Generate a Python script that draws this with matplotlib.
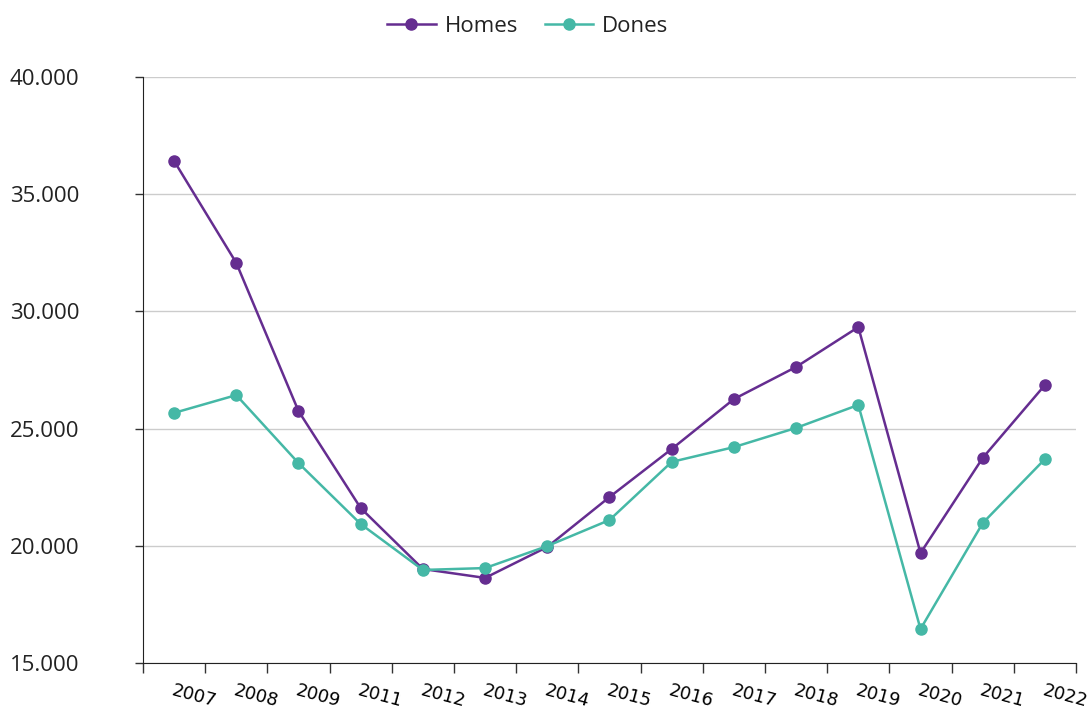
import matplotlib
matplotlib.use("Agg")
import matplotlib.pyplot as plt
from matplotlib.ticker import FuncFormatter, FixedLocator

years = ["2007", "2008", "2009", "2011", "2012", "2013", "2014", "2015",
         "2016", "2017", "2018", "2019", "2020", "2021", "2022"]
homes = [36420, 32070, 25750, 21610, 19010, 18630, 19950, 22080,
         24130, 26260, 27630, 29330, 19690, 23750, 26860]
dones = [25670, 26430, 23530, 20930, 18970, 19050, 19990, 21100,
         23580, 24210, 25030, 26010, 16450, 20970, 23700]

purple = "#652D90"
teal = "#45B8A6"

fig = plt.figure(figsize=(10.88, 7.11), dpi=100)
ax = fig.add_axes([0.1314, 0.0675, 0.9890 - 0.1314, 0.8917 - 0.0675])

x = list(range(len(years)))
ax.plot(x, homes, color=purple, lw=1.8, marker="o", ms=8, label="Homes")
ax.plot(x, dones, color=teal, lw=1.8, marker="o", ms=8, label="Dones")

ax.set_xlim(-0.5, len(years) - 0.5)
ax.set_ylim(15000, 40000)
ax.set_yticks(range(15000, 40001, 5000))
ax.yaxis.set_major_formatter(FuncFormatter(lambda v, p: "{:,.0f}".format(v).replace(",", ".")))
ax.grid(axis="y", color="#cccccc", lw=1)
ax.set_axisbelow(True)

# ticks on the band edges, labels in the band centres
ax.xaxis.set_major_locator(FixedLocator([i - 0.5 for i in range(len(years) + 1)]))
ax.xaxis.set_major_formatter(FuncFormatter(lambda v, p: ""))
ax.xaxis.set_minor_locator(FixedLocator(x))
ax.set_xticklabels(years, minor=True, rotation=-15, ha="left", rotation_mode="anchor",
                   fontsize=13, family="DejaVu Sans")
ax.tick_params(axis="x", which="major", length=7, width=1, color="#333333")
ax.tick_params(axis="x", which="minor", length=0, pad=13)
ax.tick_params(axis="y", length=6, width=1, color="#333333", labelsize=16, pad=90)
for lab in ax.get_yticklabels():
    lab.set_family("Open Sans")
    lab.set_color("#222222")
    lab.set_ha("left")

ax.spines["top"].set_visible(False)
ax.spines["right"].set_visible(False)
ax.spines["left"].set_color("#222222")
ax.spines["bottom"].set_color("#222222")

leg = fig.legend(loc="upper center", bbox_to_anchor=(0.485, 1.006), ncol=2, frameon=False,
                 prop={"family": "Open Sans", "size": 16}, handlelength=2.2,
                 handletextpad=0.4, columnspacing=1.2)
for t in leg.get_texts():
    t.set_color("#222222")

fig.savefig("out.png", dpi=100)
